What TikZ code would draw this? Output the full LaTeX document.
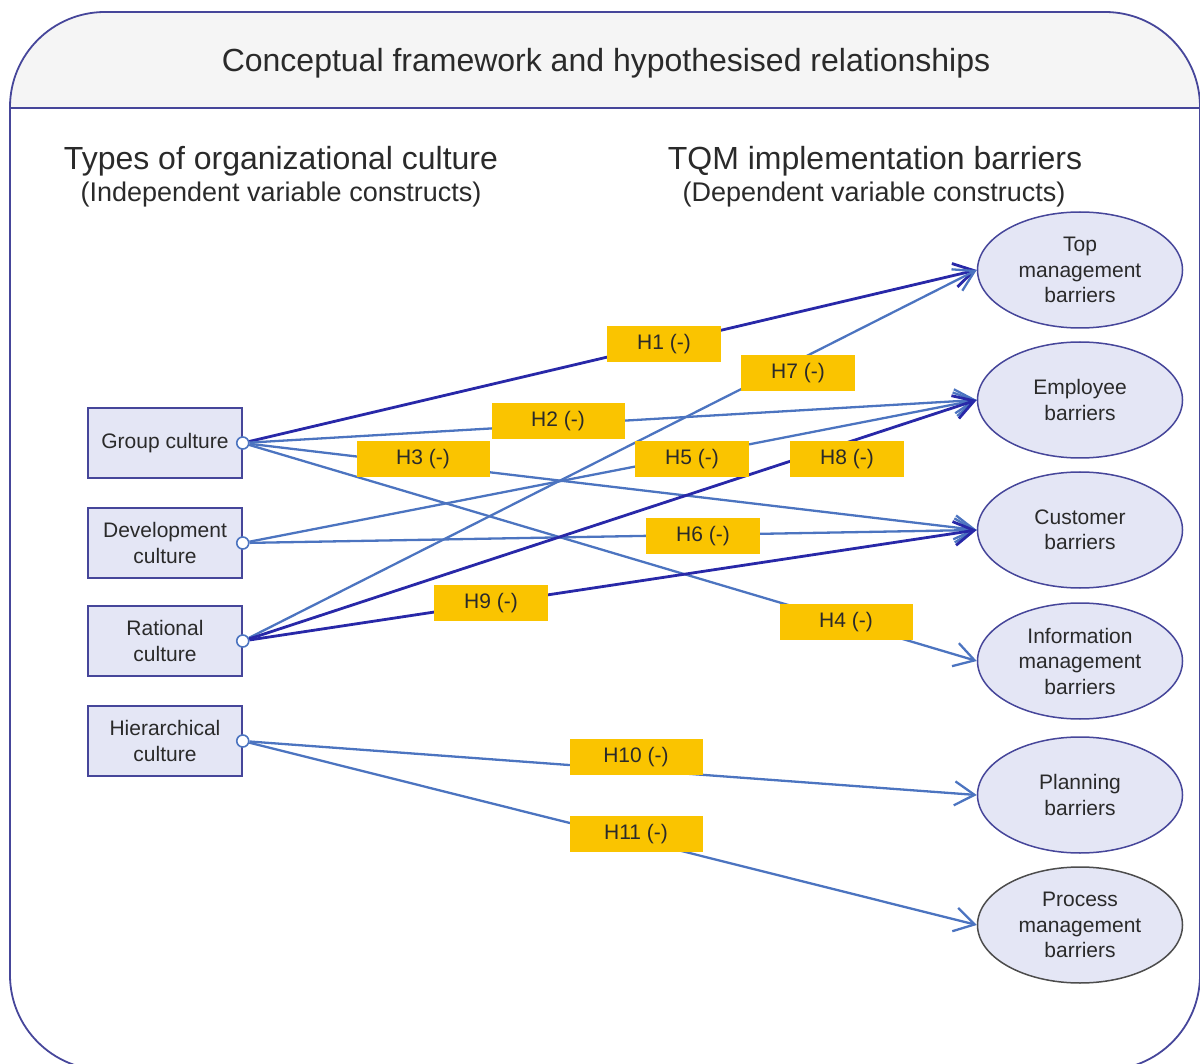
\documentclass[tikz,border=0pt]{standalone}
\usepackage{fontspec}
\setmainfont{Liberation Sans}
\usetikzlibrary{arrows.meta,shapes.geometric}
\definecolor{frameblue}{HTML}{46469A}
\definecolor{darkline}{HTML}{2828A8}
\definecolor{midline}{HTML}{4C74C0}
\definecolor{boxfill}{HTML}{E4E6F5}
\definecolor{hypgold}{HTML}{FAC400}
\definecolor{inktext}{HTML}{2A2A2A}
\begin{document}
\begin{tikzpicture}[x=1pt,y=-1pt,text=inktext,
  culture node/.style={rectangle,draw=frameblue,fill=boxfill,line width=1.5pt,minimum width=154pt,minimum height=70pt,inner sep=0pt,align=center},
  barrier node/.style={ellipse,draw=frameblue,fill=boxfill,line width=1.5pt,minimum width=205pt,minimum height=116pt,inner sep=0pt,align=center},
  port/.style={circle,draw=midline,fill=white,line width=1.6pt,minimum size=12pt,inner sep=0pt},
  plain link/.style={draw=midline,line width=2.3pt,-{Straight Barb[length=20pt,width=24pt]}},
  strong link/.style={draw=darkline,line width=2.8pt,-{Straight Barb[length=20pt,width=24pt]}},
  hyp/.style={fill=hypgold,minimum width=114pt,minimum height=36pt,inner sep=0pt},
  wide/.style={minimum width=133pt}]%fill=black,
\useasboundingbox (0,0) rectangle (1200,1064);
\begin{scope}
\clip (0,0) rectangle (1200,1064);
\begin{scope}
\clip[rounded corners=95pt] (10,1070) -- (10,12) -- (1200,12) -- (1200,1070) -- cycle;
\fill[gray!8] (0,0) rectangle (1200,108);
\end{scope}
\draw[frameblue,line width=1.8pt,rounded corners=95pt] (10,1070) -- (10,12) -- (1200,12) -- (1200,1070) -- cycle;
\draw[frameblue,line width=1.8pt] (10,108) -- (1200,108);
\end{scope}
\begin{scope}[every node/.style={font=\fontsize{32}{38}\selectfont}]
\node[anchor=base] (title) at (606,72) {Conceptual framework and hypothesised relationships};
\node[anchor=base] (indep) at (281,170) {Types of organizational culture};
\node[anchor=base] (dep) at (875,170) {TQM implementation barriers};
\end{scope}
\begin{scope}[every node/.style={font=\fontsize{27}{32}\selectfont}]
\node[anchor=base] (indepsub) at (281,202) {(Independent variable constructs)};
\node[anchor=base] (depsub) at (874,202) {(Dependent variable constructs)};
\end{scope}
\begin{scope}[every node/.style={font=\fontsize{21}{25.5}\selectfont}]
\node[culture node] (group) at (165,443) {Group culture};
\node[culture node] (devel) at (165,543) {Development\\culture};
\node[culture node] (ratio) at (165,641) {Rational\\culture};
\node[culture node] (hier) at (165,741) {Hierarchical\\culture};
\node[barrier node] (top) at (1080,270) {Top\\management\\barriers};
\node[barrier node] (empl) at (1080,400) {Employee\\barriers};
\node[barrier node] (cust) at (1080,530) {Customer\\barriers};
\node[barrier node] (info) at (1080,661) {Information\\management\\barriers};
\node[barrier node] (plan) at (1080,795) {Planning\\barriers};
\node[barrier node,draw=black!70] (proc) at (1080,925) {Process\\management\\barriers};
\end{scope}
\node[port] (gp) at (group.east) {};
\node[port] (dp) at (devel.east) {};
\node[port] (rp) at (ratio.east) {};
\node[port] (hp) at (hier.east) {};
\begin{scope}
\draw[strong link] (gp) -- (top.west);
\draw[plain link] (gp) -- (empl.west);
\draw[plain link] (gp) -- (cust.west);
\draw[plain link] (gp) -- (info.west);
\draw[plain link] (dp) -- (empl.west);
\draw[plain link] (dp) -- (cust.west);
\draw[plain link] (rp) -- (top.west);
\draw[strong link] (rp) -- (empl.west);
\draw[strong link] (rp) -- (cust.west);
\draw[plain link] (hp) -- (plan.west);
\draw[plain link] (hp) -- (proc.west);
\end{scope}
\begin{scope}[every node/.style={hyp,font=\fontsize{21}{25}\selectfont}]
\node (h1) at (664,344) {H1 (-)};
\node[wide] (h2) at (558,421) {H2 (-)};
\node[wide] (h3) at (423,459) {H3 (-)};
\node[wide] (h4) at (846,622) {H4 (-)};
\node (h5) at (692,459) {H5 (-)};
\node (h6) at (703,536) {H6 (-)};
\node (h7) at (798,373) {H7 (-)};
\node (h8) at (847,459) {H8 (-)};
\node (h9) at (491,603) {H9 (-)};
\node[wide] (h10) at (636,757) {H10 (-)};
\node[wide] (h11) at (636,834) {H11 (-)};
\end{scope}
\end{tikzpicture}
\end{document}
